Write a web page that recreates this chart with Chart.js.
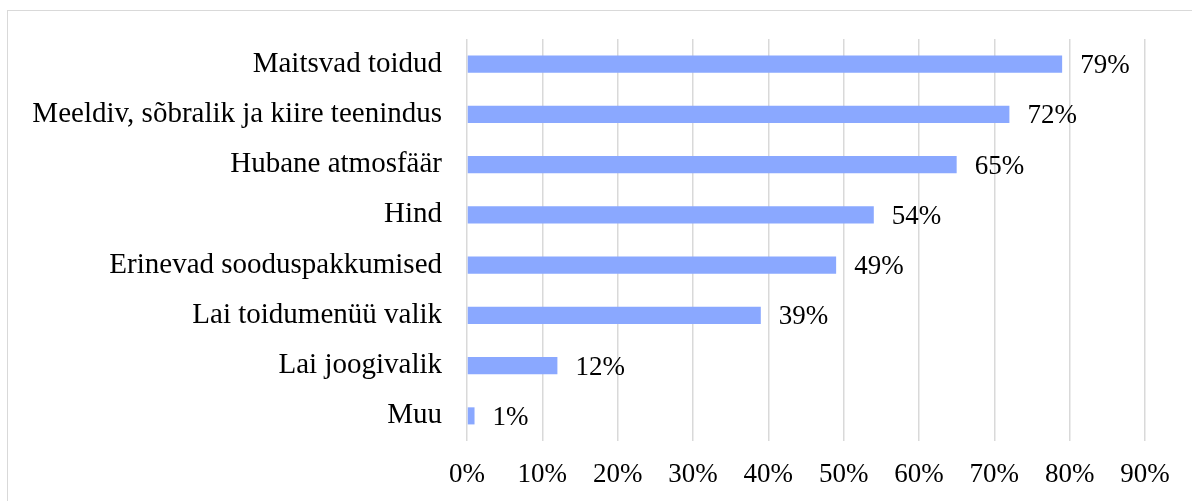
<!DOCTYPE html>
<html>
<head>
<meta charset="utf-8">
<script src="https://cdn.jsdelivr.net/npm/chart.js@4"></script>
<style>
  body { margin: 0; background: #fff; }
  .wrap { position: relative; width: 1192px; height: 501px; overflow: hidden; }
  .frame { position: absolute; left: 7px; top: 10px; width: 1200px; height: 520px; border: 1px solid #d9d9d9; }
  canvas { position: absolute; left: 0; top: 0; }
</style>
</head>
<body>
<div class="wrap">
  <div class="frame"></div>
  <canvas id="chart" width="1192" height="501"></canvas>
</div>
<script>
const categories = [
  "Maitsvad toidud",
  "Meeldiv, sõbralik ja kiire teenindus",
  "Hubane atmosfäär",
  "Hind",
  "Erinevad sooduspakkumised",
  "Lai toidumenüü valik",
  "Lai joogivalik",
  "Muu",
];
const values = [79, 72, 65, 54, 49, 39, 12, 1];
const tickMax = 90;
const font = "'Liberation Serif', 'Times New Roman', serif";

// percentage labels right of each bar
const barLabels = {
  id: "barLabels",
  afterDatasetsDraw(chart) {
    const c = chart.ctx;
    const meta = chart.getDatasetMeta(0);
    c.save();
    c.font = "27px " + font;
    c.fillStyle = "#000";
    c.textBaseline = "middle";
    meta.data.forEach((bar, i) => {
      c.fillText(values[i] + "%", bar.x + 18, bar.y + 2);
    });
    c.restore();
  },
};

const ctx = document.getElementById("chart");
const chart = new Chart(ctx, {
  type: "bar",
  data: {
    labels: categories,
    datasets: [
      {
        data: values,
        backgroundColor: "#8aa8ff",
        borderWidth: 0,
        categoryPercentage: 1,
        barPercentage: 0.34,
      },
    ],
  },
  options: {
    indexAxis: "y",
    responsive: false,
    animation: false,
    layout: {
      padding: { top: 39, right: 47, left: 0, bottom: 0 },
    },
    plugins: {
      legend: { display: false },
      tooltip: { enabled: false },
    },
    scales: {
      x: {
        min: 0,
        max: tickMax,
        grid: { color: "#d9d9d9", lineWidth: 1.5, drawTicks: false },
        border: { display: false },
        ticks: {
          stepSize: 10,
          padding: 18,
          color: "#000",
          font: { family: font, size: 27 },
          callback: (v) => v + "%",
        },
        afterFit: (scale) => {
          scale.height = 60;
        },
      },
      y: {
        grid: { display: false },
        border: { display: false },
        ticks: {
          padding: 17,
          color: "#000",
          font: { family: font, size: 29 },
        },
        afterFit: (scale) => {
          scale.width = 467;
        },
      },
    },
  },
  plugins: [barLabels],
});
</script>
</body>
</html>
